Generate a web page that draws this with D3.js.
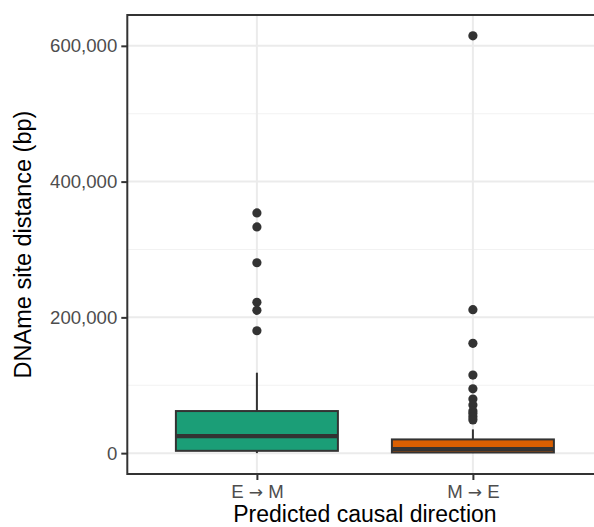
<!DOCTYPE html>
<html>
<head>
<meta charset="utf-8">
<script src="https://cdn.jsdelivr.net/npm/d3@7"></script>
<style>
  html, body { margin: 0; padding: 0; background: #ffffff; }
  svg { display: block; font-family: "Liberation Sans", Arial, Helvetica, sans-serif; }
</style>
</head>
<body>
<svg id="chart" width="594" height="527"></svg>
<script>
// ---- data ----
const categories = ["E \u2192 M", "M \u2192 E"];
const fillColors = ["#1B9E77", "#D95F02"];
const whiskerLow = [0, 0];
const q1 = [3400, 1000];
const median = [25000, 6000];
const q3 = [62000, 20200];
const whiskerHigh = [118500, 35000];
const outliersEM = [353800, 333200, 280500, 222200, 210400, 180300];
const outliersME = [614700, 211300, 161700, 115000, 94800, 79600, 70800, 62000, 58500, 53500, 49000];
const outliers = [outliersEM, outliersME];
const yMajorTicks = [0, 200000, 400000, 600000];
const yMinorTicks = [100000, 300000, 500000];
const xTitle = "Predicted causal direction";
const yTitle = "DNAme site distance (bp)";

// ---- layout ----
const panel = { left: 127.3, right: 602.5, top: 15, bottom: 474 };
const svg = d3.select("#chart");
const fontFam = '"Liberation Sans", Arial, Helvetica, sans-serif';

const allVals = whiskerLow.concat(whiskerHigh, outliersEM, outliersME);
const lo = d3.min(allVals), hi = d3.max(allVals);
const pad = (hi - lo) * 0.05;
const y = d3.scaleLinear().domain([lo - pad, hi + pad]).range([panel.bottom, panel.top]);
const x = d3.scaleLinear().domain([0.4, categories.length + 0.6]).range([panel.left, panel.right]);
const unit = x(1) - x(0);
const boxW = 0.75 * unit;

const g = svg.append("g");
g.append("defs").append("clipPath").attr("id", "pclip")
  .append("rect").attr("x", panel.left).attr("y", panel.top)
  .attr("width", panel.right - panel.left).attr("height", panel.bottom - panel.top);

const pg = g.append("g").attr("clip-path", "url(#pclip)");
pg.append("rect").attr("x", panel.left).attr("y", panel.top)
  .attr("width", panel.right - panel.left).attr("height", panel.bottom - panel.top)
  .attr("fill", "#ffffff");

// grid
pg.selectAll("line.minor").data(yMinorTicks).join("line")
  .attr("x1", panel.left).attr("x2", panel.right)
  .attr("y1", d => y(d)).attr("y2", d => y(d))
  .attr("stroke", "#F2F2F2").attr("stroke-width", 1);
pg.selectAll("line.majory").data(yMajorTicks).join("line")
  .attr("x1", panel.left).attr("x2", panel.right)
  .attr("y1", d => y(d)).attr("y2", d => y(d))
  .attr("stroke", "#EBEBEB").attr("stroke-width", 2);
pg.selectAll("line.majorx").data(categories).join("line")
  .attr("x1", (d, i) => x(i + 1)).attr("x2", (d, i) => x(i + 1))
  .attr("y1", panel.top).attr("y2", panel.bottom)
  .attr("stroke", "#EBEBEB").attr("stroke-width", 2);

// boxes
const dark = "#333333";
categories.forEach((c, i) => {
  const cx = x(i + 1);
  pg.append("line").attr("x1", cx).attr("x2", cx)
    .attr("y1", y(q3[i])).attr("y2", y(whiskerHigh[i]))
    .attr("stroke", dark).attr("stroke-width", 2);
  pg.append("line").attr("x1", cx).attr("x2", cx)
    .attr("y1", y(q1[i])).attr("y2", y(whiskerLow[i]))
    .attr("stroke", dark).attr("stroke-width", 2);
  pg.append("rect").attr("x", cx - boxW / 2).attr("width", boxW)
    .attr("y", y(q3[i])).attr("height", y(q1[i]) - y(q3[i]))
    .attr("fill", fillColors[i]).attr("stroke", dark).attr("stroke-width", 2);
  pg.append("line").attr("x1", cx - boxW / 2).attr("x2", cx + boxW / 2)
    .attr("y1", y(median[i])).attr("y2", y(median[i]))
    .attr("stroke", dark).attr("stroke-width", 4.2);
  pg.selectAll(null).data(outliers[i]).join("circle")
    .attr("cx", cx).attr("cy", d => y(d)).attr("r", 4.6)
    .attr("fill", dark);
});

// panel border
g.append("rect").attr("x", panel.left).attr("y", panel.top)
  .attr("width", panel.right - panel.left).attr("height", panel.bottom - panel.top)
  .attr("fill", "none").attr("stroke", dark).attr("stroke-width", 2);

// axes
const yAxis = d3.axisLeft(y).tickValues(yMajorTicks).tickFormat(d3.format(","))
  .tickSize(6).tickPadding(4);
const ya = svg.append("g").attr("transform", `translate(${panel.left},0)`).call(yAxis);
ya.select(".domain").remove();
ya.selectAll(".tick line").attr("stroke", dark).attr("stroke-width", 2);
ya.selectAll(".tick text").attr("fill", "#4D4D4D").style("font-size", "18.6px")
  .style("font-family", fontFam);

const xAxis = d3.axisBottom(x).tickValues(categories.map((c, i) => i + 1))
  .tickFormat(() => "").tickSize(6).tickPadding(4.3);
const xa = svg.append("g").attr("transform", `translate(0,${panel.bottom})`).call(xAxis);
xa.select(".domain").remove();
xa.selectAll(".tick line").attr("stroke", dark).attr("stroke-width", 2);
xa.selectAll(".tick text").each(function (d) {
  const parts = categories[d - 1].split("\u2192");
  const t = d3.select(this).attr("fill", "#4D4D4D").style("font-size", "18.6px")
    .style("font-family", fontFam);
  t.append("tspan").text(parts[0].trim() + " ");
  t.append("tspan").style("font-family", '"DejaVu Sans", sans-serif')
    .style("font-size", "17px").text("\u2192");
  t.append("tspan").text(" " + parts[1].trim());
});

// titles
const midX = (panel.left + panel.right) / 2;
svg.append("text").attr("x", midX).attr("y", 522)
  .attr("text-anchor", "middle").attr("fill", "#000")
  .style("font-size", "23px").text(xTitle);
const midY = (panel.top + panel.bottom) / 2;
svg.append("text").attr("transform", `translate(30.5,${midY}) rotate(-90)`)
  .attr("text-anchor", "middle").attr("fill", "#000")
  .style("font-size", "23.5px").text(yTitle);
</script>
</body>
</html>
